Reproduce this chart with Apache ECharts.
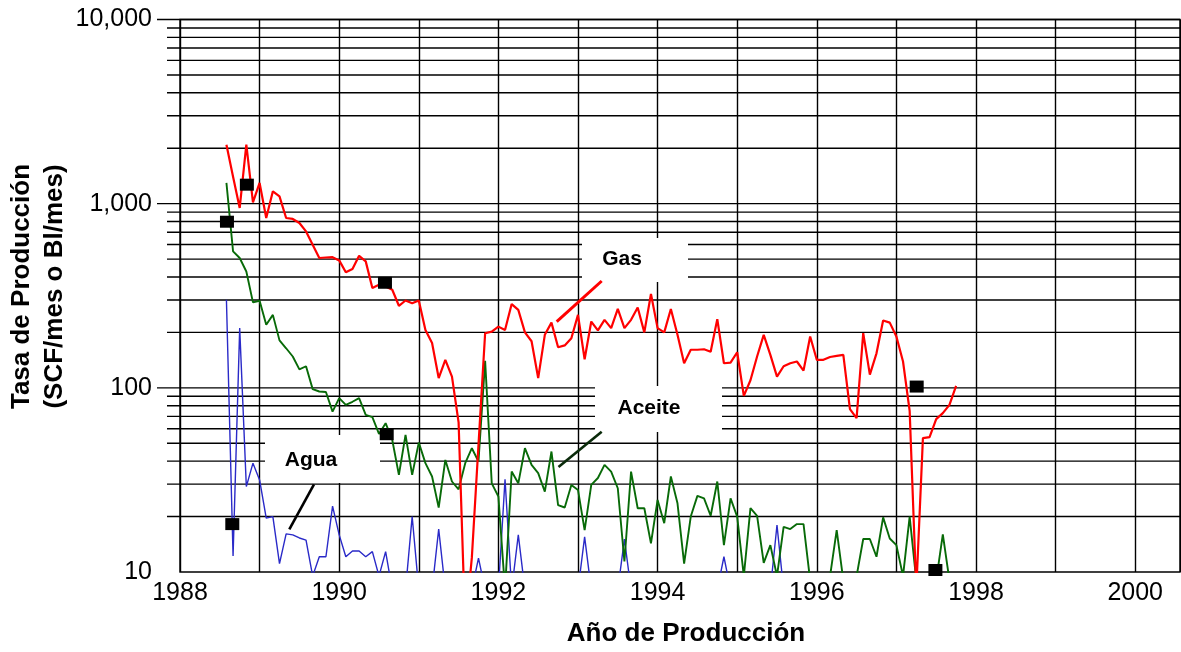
<!DOCTYPE html>
<html>
<head>
<meta charset="utf-8">
<script src="https://cdn.jsdelivr.net/npm/echarts@6/dist/echarts.min.js"></script>
<style>
html,body{margin:0;padding:0;background:#fff;}
#chart{width:1181px;height:652px;}
</style>
</head>
<body>
<div id="chart"></div>
<script>
// ---- data (monthly, first month = Aug 1988) ----
const firstMonthYear = 1988 + 7 / 12;

const gasValues = [
  2090,1400,948,2090,1016,1296,836,1167,1096,836,
  826,785,707,598,507,510,512,492,424,442,
  521,486,348,363,355,341,279,298,288,298,
  206,175,113,142,115,65,5,12,49,198,
  202,215,206,285,265,200,179,113,194,226,
  166,170,186,249,143,229,205,234,211,268,
  211,234,273,200,323,211,200,268,194,136,
  161,161,162,157,236,136,137,156,90.5,110,
  148,194,151,115,131,136,139,124,190,142,
  142,147,149,151,76.6,68.4,198,118,154,232,
  226,190,139,75,8,53.3,54,67.6,72.9,80.8,
  102.6
];

const oilValues = [
  1296,551,507,428,291,297,220,249,181,164,
  148,126,131,98.4,95.5,95,74.3,87.9,80.8,84,
  87.9,71.3,69.3,56.2,64.3,52.1,33.7,55.6,33.7,50.4,
  39,33,22.4,40.6,31,28.1,39,47,39.8,140,
  30.3,25.7,8,35.1,30.3,47,38.2,34.4,27.3,45.1,
  23.1,22.4,29.7,27.9,16.9,29.7,32.4,38.2,35.1,28.5,
  11.4,35.1,22.2,22.2,14.3,24.6,18.4,33,23.6,11.1,
  20,25.9,25.1,20.2,31,14,25.1,20,9.5,22.2,
  20.2,11.2,14,9.5,17.6,17.1,18.2,18.2,9,8,
  8,9.5,16.9,9,8,9.5,15.1,15.1,12.1,19.8,
  15.2,14,9.5,20,9,8,8,9,16,9
];

const waterValues = [
  301,12.2,211,29.1,39,31.6,19.6,20,11.1,16.1,
  15.9,15.3,14.9,9.5,12.1,12.1,22.8,15.9,12.1,13,
  13,12.1,12.9,9.5,12.9,8,8,8,20,8,
  8,8,17.1,8,8,8,8,8,11.9,8,
  8,8,31.9,8,15.9,8,8,8,8,8,
  8,8,8,8,15.5,8,8,8,8,8,
  15.1,8,8,8,8,8,8,8,8,8,
  8,8,8,8,8,12.1,8,8,8,8,
  8,8,8,18,8,8,8,8,8,8,
  8,8,8,8,8,8,8,8,8,8,
  8,8,8,8,8,8,8,8,8,8,8
];

// black square markers [year, value]
const markerPoints = [
  [1988.59, 798], [1988.84, 1268], [1990.575, 372], [1990.597, 56],
  [1988.657, 18.2], [1997.255, 101.6], [1997.49, 10.25]
];

const yMajor = [100, 1000, 10000];
const yMinor = [20,30,40,50,60,70,80,90,200,300,400,500,600,700,800,900,
                2000,3000,4000,5000,6000,7000,8000,9000];
const xMin = 1988, xMax = 2000.563;

const labels = { gas: 'Gas', oil: 'Aceite', water: 'Agua' };
const xTitle = 'Año de Producción';
const yTitle = 'Tasa de Producción\n(SCF/mes o Bl/mes)';

function toSeries(vals) {
  return vals.map((v, i) => [firstMonthYear + i / 12, v]);
}

const gridLines = yMajor.map(v => [xMin, v, 1]).concat(yMinor.map(v => [xMin, v, 0]));

const FONT = 'Liberation Sans, Arial, Helvetica, sans-serif';
const chart = echarts.init(document.getElementById('chart'));

chart.setOption({
  animation: false,
  backgroundColor: '#fff',
  grid: {
    left: 180, top: 19.5, width: 1000, height: 552.5,
    show: true, borderColor: '#000', borderWidth: 1.4,
    containLabel: false, outerBoundsMode: 'none'
  },
  xAxis: {
    type: 'value', min: xMin, max: xMax, interval: 1,
    axisLine: { show: false }, axisTick: { show: false },
    splitLine: { show: true, lineStyle: { color: '#000', width: 1.4 } },
    axisLabel: {
      margin: 9, color: '#000', fontSize: 25, fontFamily: FONT,
      formatter: v => (Math.abs(v - Math.round(v)) < 1e-6 && Math.round(v) % 2 === 0) ? String(Math.round(v)) : ''
    },
    name: xTitle, nameLocation: 'middle', nameGap: 49,
    nameTextStyle: { color: '#000', fontSize: 26, fontWeight: 'bold', fontFamily: FONT, padding: [0, 0, 0, 12] }
  },
  yAxis: {
    type: 'log', logBase: 10, min: 10, max: 10000,
    axisLine: { show: false }, axisTick: { show: false },
    splitLine: { show: false }, minorTick: { show: false }, minorSplitLine: { show: false },
    axisLabel: {
      margin: 28, color: '#000', fontSize: 25, fontFamily: FONT,
      formatter: v => Math.round(v).toLocaleString('en-US')
    }
  },
  graphic: {
    elements: [
      { type: 'rect', z: 1, shape: { x: 582, y: 238, width: 106, height: 44 }, style: { fill: '#fff' } },
      { type: 'rect', z: 1, shape: { x: 595, y: 386, width: 127, height: 46 }, style: { fill: '#fff' } },
      { type: 'rect', z: 1, shape: { x: 265, y: 435, width: 115, height: 48 }, style: { fill: '#fff' } },
      { type: 'text', z: 5, x: 622, y: 259, style: { text: labels.gas, font: 'bold 21px ' + FONT, fill: '#000', align: 'center', verticalAlign: 'middle' } },
      { type: 'text', z: 5, x: 649, y: 408, style: { text: labels.oil, font: 'bold 21px ' + FONT, fill: '#000', align: 'center', verticalAlign: 'middle' } },
      { type: 'text', z: 5, x: 311, y: 460, style: { text: labels.water, font: 'bold 21px ' + FONT, fill: '#000', align: 'center', verticalAlign: 'middle' } },
      { type: 'line', z: 5, shape: { x1: 601.7, y1: 281, x2: 556.7, y2: 321.7 }, style: { stroke: '#ff0000', lineWidth: 3 } },
      { type: 'line', z: 5, shape: { x1: 601.7, y1: 431.7, x2: 558.5, y2: 467 }, style: { stroke: '#0a2a0a', lineWidth: 2.6 } },
      { type: 'line', z: 5, shape: { x1: 314, y1: 484.3, x2: 289.3, y2: 529.3 }, style: { stroke: '#000', lineWidth: 2.6 } },
      { type: 'text', z: 5, x: 38.5, y: 286.5, rotation: Math.PI / 2,
        style: { text: yTitle, font: 'bold 26px ' + FONT, fill: '#000', align: 'center', verticalAlign: 'middle', lineHeight: 33 } }
    ]
  },
  series: [
    {
      type: 'custom', z: 0.5, silent: true, clip: false,
      data: gridLines,
      encode: { x: 0, y: 1 },
      renderItem: (params, api) => {
        const p = api.coord([api.value(0), api.value(1)]);
        const cs = params.coordSys;
        const ext = api.value(2) ? 23 : 13;
        return {
          type: 'line',
          shape: { x1: cs.x - ext, y1: p[1], x2: cs.x + cs.width, y2: p[1] },
          style: { stroke: '#000', lineWidth: 1.4 }
        };
      }
    },
    {
      name: labels.water, type: 'line', z: 2, data: toSeries(waterValues),
      showSymbol: false, symbol: 'none', clip: true,
      lineStyle: { color: '#2a2ac8', width: 1.4, opacity: 1 }
    },
    {
      name: labels.oil, type: 'line', z: 3, data: toSeries(oilValues),
      showSymbol: false, symbol: 'none', clip: true,
      lineStyle: { color: '#086a08', width: 1.9, opacity: 1 }
    },
    {
      name: labels.gas, type: 'line', z: 4, data: toSeries(gasValues),
      showSymbol: false, symbol: 'none', clip: true,
      lineStyle: { color: '#ff0000', width: 2.2, opacity: 1 }
    },
    {
      type: 'scatter', z: 6, data: markerPoints, symbol: 'rect', symbolSize: [14, 12],
      itemStyle: { color: '#000', opacity: 1 }, clip: false
    }
  ]
});
</script>
</body>
</html>
